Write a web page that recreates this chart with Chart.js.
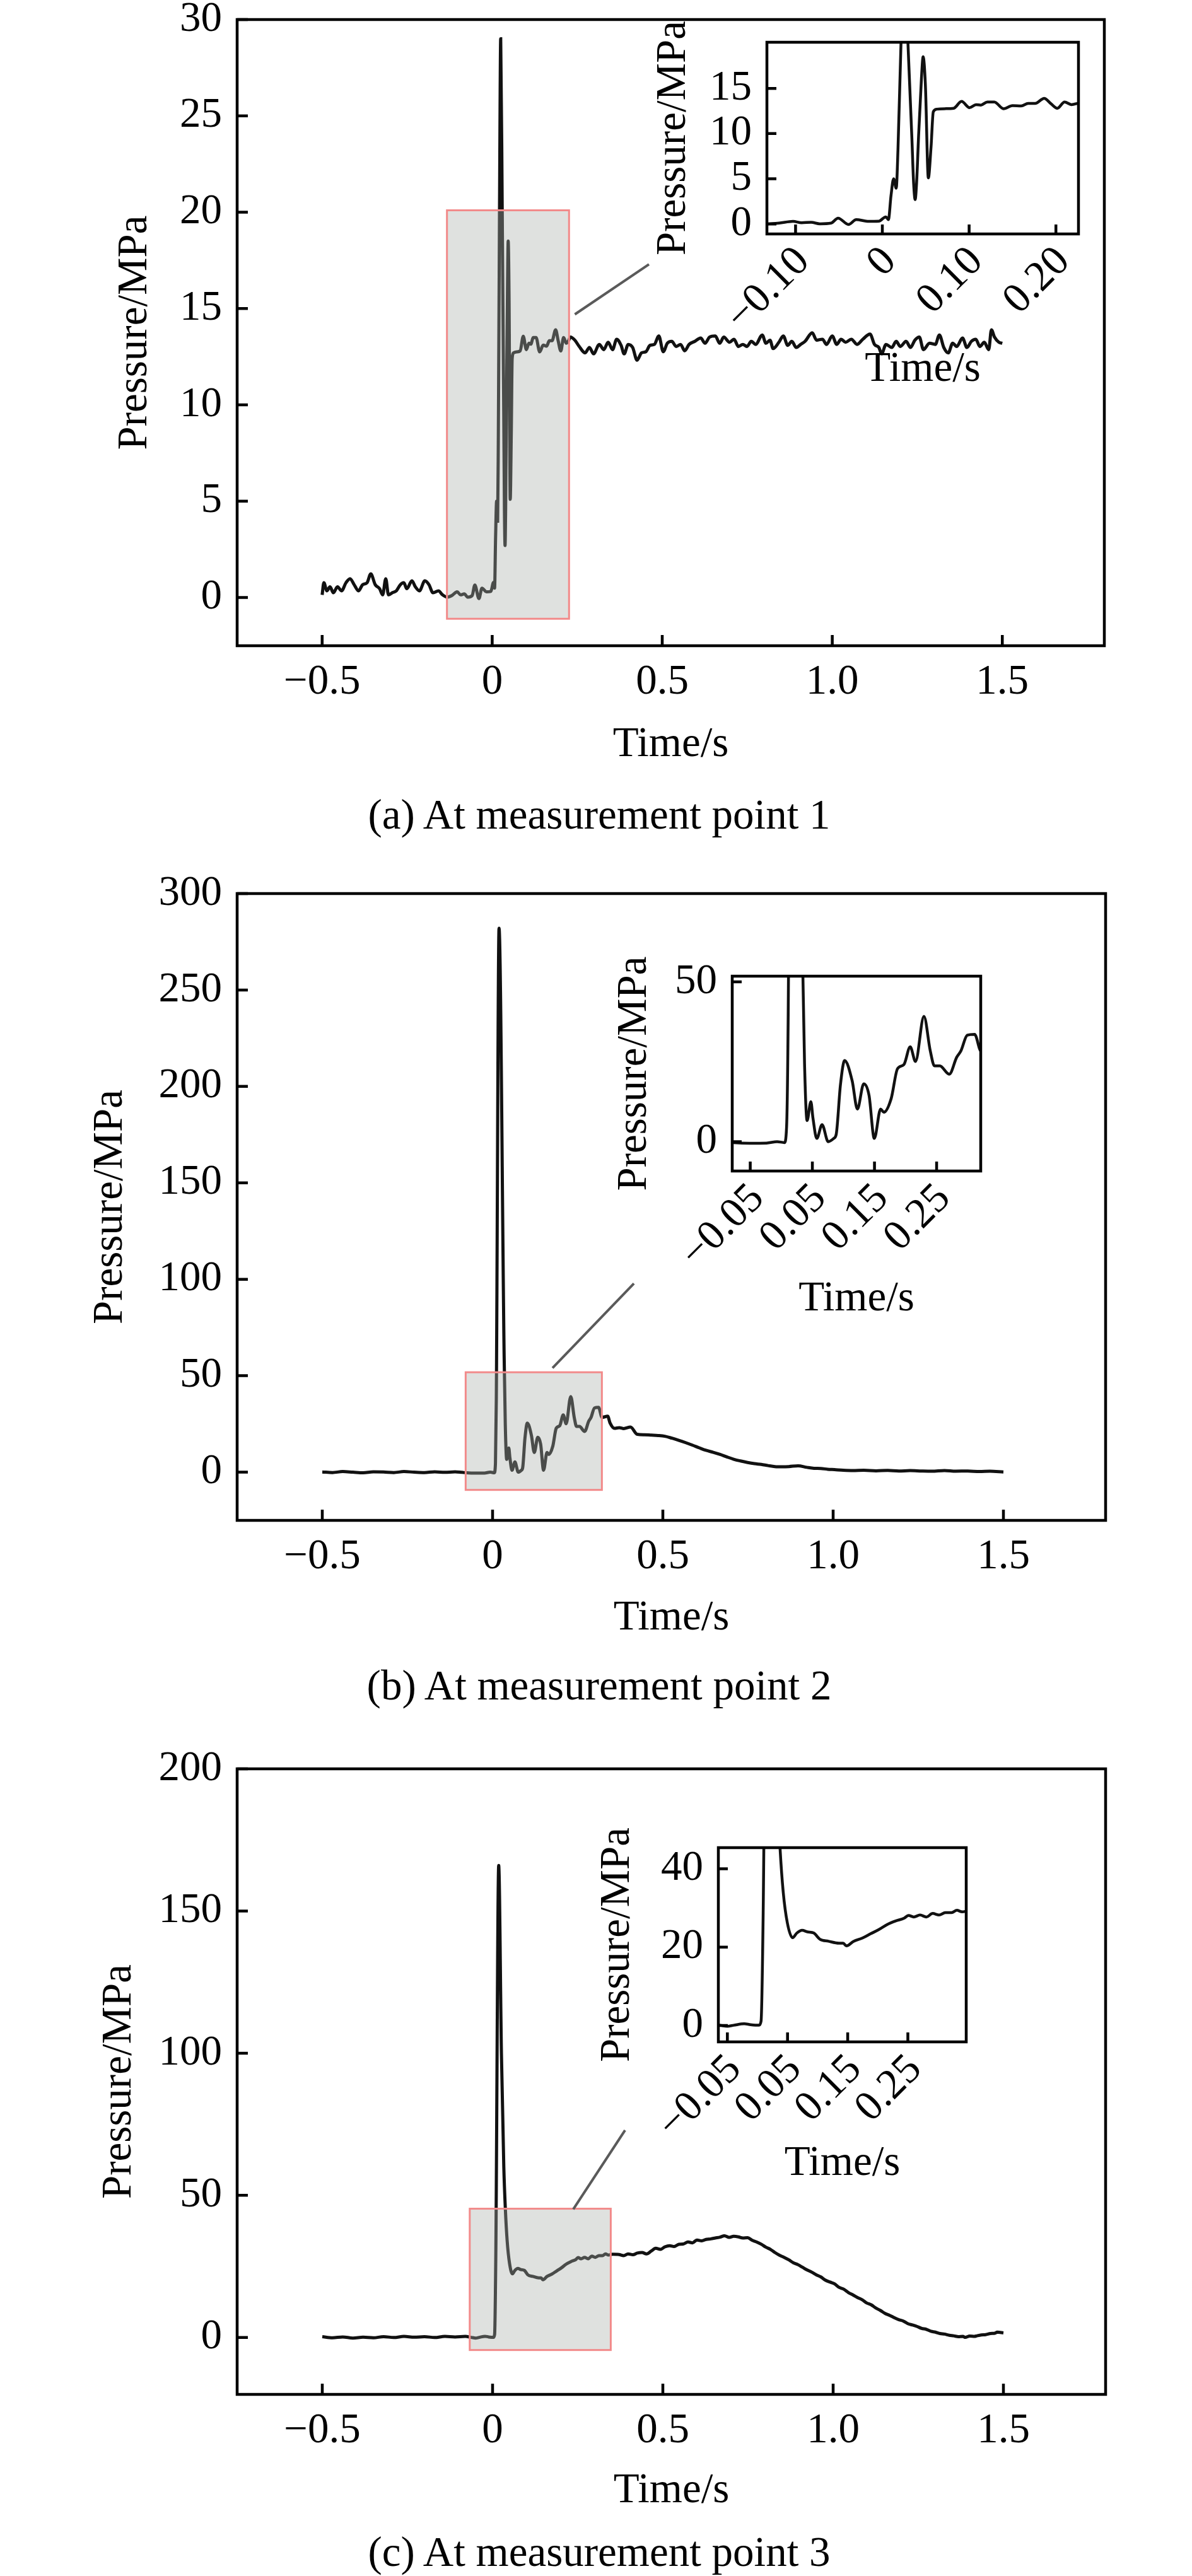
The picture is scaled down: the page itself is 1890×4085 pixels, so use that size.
<!DOCTYPE html>
<html lang="en">
<head>
<meta charset="UTF-8">
<title>Pressure at measurement points</title>
<style>
  body { margin: 0; background: #fff; }
  #page { position: relative; width: 1890px; height: 4085px; background: #fff; overflow: hidden; }
  canvas { position: absolute; }
  .caption {
    position: absolute; left: 0; width: 1900px; height: 80px;
    text-align: center; line-height: 80px; color: #000;
    font-family: "Liberation Serif", "Times New Roman", serif; font-size: 67px;
  }
</style>
</head>
<body>
<div id="page">
  <canvas id="mainA"></canvas>
  <canvas id="insetA"></canvas>
  <canvas id="mainB"></canvas>
  <canvas id="insetB"></canvas>
  <canvas id="mainC"></canvas>
  <canvas id="insetC"></canvas>
  <div class="caption" style="top:1251px">(a) At measurement point 1</div>
  <div class="caption" style="top:2632px">(b) At measurement point 2</div>
  <div class="caption" style="top:4006px">(c) At measurement point 3</div>
</div>

<script src="https://cdn.jsdelivr.net/npm/chart.js"></script>
<script>
// ---- data (time in s, pressure in MPa) ----
const timeA = [
  -0.500,-0.495,-0.486,-0.477,-0.467,-0.455,-0.443,-0.430,-0.418,-0.406,
  -0.393,-0.381,-0.368,-0.357,-0.344,-0.331,-0.322,-0.313,-0.305,-0.294,
  -0.282,-0.270,-0.260,-0.251,-0.236,-0.226,-0.214,-0.198,-0.186,-0.174,
  -0.158,-0.146,
  -0.132,-0.119,-0.103,-0.093,-0.082,-0.072,-0.059,-0.051,-0.039,-0.030,
  -0.017,-0.004,0.004,0.007,0.010,0.013,0.016,0.018,0.0215,0.025,
  0.0295,0.034,0.036,0.0378,0.0395,0.0417,0.045,0.047,0.0496,0.053,
  0.0561,0.0587,0.0626,0.0717,0.0822,0.0913,0.1004,0.108,0.1135,0.121,
  0.129,0.1396,0.150,0.160,0.168,0.176,0.1865,0.194,0.2017,0.210,
  0.2178,0.2244,
  0.230,0.243,0.256,0.273,0.286,0.298,0.315,0.328,0.341,0.354,
  0.366,0.379,0.388,0.400,0.413,0.426,0.439,0.452,0.464,0.477,
  0.490,0.503,0.515,0.528,0.541,0.554,0.566,0.579,0.596,0.613,
  0.626,0.639,0.656,0.669,0.681,0.698,0.711,0.724,0.737,0.749,
  0.762,0.775,0.794,0.805,0.817,0.826,0.843,0.856,0.869,0.881,
  0.894,0.907,0.920,0.941,0.954,0.971,0.983,1.000,1.013,1.026,
  1.039,1.056,1.073,1.090,1.111,1.124,1.137,1.145,1.158,1.175,
  1.188,1.200,1.217,1.230,1.243,1.256,1.268,1.286,1.303,1.315,
  1.328,1.341,1.354,1.366,1.383,1.396,1.409,1.422,1.434,1.447,
  1.460,1.468,1.477,1.490,1.500
];
const pressA = [
  0.14,0.77,0.35,0.56,0.25,0.56,0.35,0.77,0.98,0.67,
  0.35,0.67,0.77,1.23,0.67,0.46,0.14,0.98,0.14,0.25,
  0.35,0.67,0.77,0.46,0.87,0.56,0.35,0.87,0.67,0.25,
  0.35,0.14,
  0.02,0.10,0.30,0.14,0.19,0.02,0.10,0.65,-0.05,0.49,
  0.30,0.32,0.79,0.49,3.15,5.0,3.96,8.2,20.0,29.0,
  20.0,9.6,4.6,2.7,4.6,9.6,16.0,18.5,15.4,5.1,
  8.5,12.4,12.7,12.75,12.8,13.56,12.87,13.2,13.15,13.5,
  13.5,12.75,13.1,13.05,13.33,13.33,13.9,13.33,12.8,13.5,
  13.2,13.33,
  13.52,13.36,13.03,12.7,12.98,12.65,13.14,12.87,13.25,12.87,
  13.41,13.09,12.65,13.14,12.98,12.32,12.7,12.76,13.09,13.14,
  13.58,12.76,13.2,13.3,13.03,13.14,12.81,13.14,13.3,13.47,
  13.2,13.52,13.58,13.2,13.52,13.25,13.41,13.03,13.14,13.03,
  13.3,13.14,13.63,13.2,13.36,12.92,13.25,13.58,13.09,13.3,
  12.98,13.14,13.3,13.74,13.36,13.41,13.14,13.58,13.14,13.41,
  13.25,13.41,13.14,13.41,13.68,13.14,12.98,12.65,13.14,12.98,
  13.3,13.03,13.3,12.98,13.36,13.52,12.87,13.2,13.14,13.63,
  12.98,12.7,13.2,13.03,13.47,12.98,13.3,13.41,13.03,13.25,
  12.87,13.9,13.52,13.25,13.2
];

const timeB = [
  -0.50,-0.47,-0.44,-0.41,-0.38,-0.35,-0.32,-0.29,-0.26,-0.23,
  -0.20,-0.17,-0.14,-0.11,-0.09,
  -0.0765,-0.051,-0.0238,-0.0068,0.005,0.0085,0.011,0.019,0.034,0.0374,
  0.0415,0.0476,0.051,0.0571,0.0656,0.0755,0.0844,0.0884,0.0952,0.102,
  0.114,0.1225,0.1327,0.1412,0.1497,0.1599,0.165,0.1769,0.187,0.1973,
  0.2075,0.216,0.2296,0.2398,0.2466,0.2551,0.2704,0.2823,0.2891,0.2993,
  0.3112,0.3214,
  0.338,0.345,0.358,0.372,0.385,0.405,0.425,0.446,0.466,0.486,
  0.506,0.527,0.547,0.567,0.587,0.607,0.627,0.648,0.668,0.688,
  0.708,0.728,0.749,0.769,0.789,0.809,0.829,0.850,0.870,0.897,
  0.923,0.944,0.964,0.984,1.004,1.030,1.058,1.090,1.126,1.160,
  1.193,1.226,1.260,1.290,1.327,1.360,1.395,1.430,1.460,1.500
];
const pressB = [
  0.1,-0.2,0.3,0,-0.3,0.2,0.1,-0.2,0.3,0,
  -0.2,0.2,-0.1,0.2,-0.1,
  -0.33,-0.5,-0.46,0,-0.3,4.6,37.6,282,60,24.4,
  6.6,12.5,7.3,1.0,5.3,0,1.0,2.3,17.8,25.4,
  19.1,10.2,18.1,14.5,1.0,10.2,9.2,13.5,22.8,24.1,
  29.7,25.1,39.2,28.4,23.7,23.7,21.1,26.4,28.4,33.3,
  33.6,28.4,
  29.0,25.5,22.7,23.1,22.6,23.4,19.6,19.4,19.2,19.0,
  18.6,17.6,16.5,15.3,14.0,12.6,11.3,10.3,9.2,7.9,
  6.7,5.8,5.0,4.4,4.0,3.4,2.9,2.8,2.9,3.3,
  2.5,2.0,1.9,1.5,1.3,1.0,0.85,1.0,0.7,0.9,
  0.6,0.8,0.6,0.5,0.85,0.5,0.6,0.3,0.5,0.1
];

const timeC = [
  -0.50,-0.47,-0.44,-0.41,-0.38,-0.35,-0.32,-0.29,-0.26,-0.23,
  -0.20,-0.17,-0.14,-0.11,-0.08,
  -0.0623,-0.05,-0.0395,-0.022,-0.0115,0.0025,0.006,0.0095,0.018,0.026,
  0.033,0.0375,0.0428,0.0498,0.0585,0.0655,0.0743,0.083,0.0935,0.104,
  0.118,0.1355,0.1425,0.1478,0.160,0.174,0.188,0.202,0.216,0.230,
  0.244,0.251,0.2598,0.2703,0.2808,0.2913,0.3018,0.3123,0.3228,0.3315,
  0.3403,
  0.352,0.3716,0.385,0.398,0.412,0.425,0.439,0.452,0.466,0.479,
  0.493,0.506,0.520,0.533,0.547,0.560,0.574,0.587,0.600,0.614,
  0.627,0.641,0.654,0.668,0.681,0.695,0.708,0.722,0.735,0.749,
  0.762,0.775,0.789,0.802,0.816,0.829,0.843,0.856,0.870,0.883,
  0.897,0.910,0.923,0.937,0.950,0.964,0.977,0.991,1.004,1.018,
  1.031,1.045,1.058,1.071,1.085,1.098,1.112,1.125,1.139,1.152,
  1.166,1.179,1.192,1.206,1.219,1.233,1.246,1.260,1.273,1.287,
  1.300,1.314,1.327,1.341,1.354,1.368,1.381,1.388,1.401,1.415,
  1.422,1.435,1.448,1.462,1.475,1.482,1.500
];
const pressC = [
  0.3,-0.1,0.2,-0.2,0.1,-0.1,0.3,0,0.4,0.1,
  0.3,0,0.4,0.2,0.4,
  0.05,-0.2,0.05,0.43,0.2,0.05,1.1,28.7,166,100,
  60,45.4,34.1,26.1,22.4,23.6,24.3,23.9,23.6,22.0,
  21.5,21.0,21.0,20.3,21.5,22.3,23.4,24.5,25.8,26.7,
  27.4,28.1,27.7,28.2,27.7,28.6,28.2,28.8,28.8,29.4,
  29.0,
  29.3,29.2,28.8,29.4,29.1,29.7,29.9,29.4,30.4,31.4,
  31.0,31.9,32.3,32.0,32.8,32.9,33.6,33.3,34.3,34.0,
  34.5,34.7,35.0,35.3,35.8,35.2,35.6,35.4,35.0,35.1,
  34.2,33.6,32.8,31.8,31.0,29.9,28.9,28.2,27.3,26.3,
  25.6,24.7,23.8,23.0,22.1,21.3,20.2,19.5,18.9,17.6,
  17.0,15.8,15.0,14.1,13.3,12.2,11.5,10.4,9.5,8.5,
  7.8,7.0,6.3,5.8,4.9,4.4,3.9,3.2,2.9,2.2,
  1.9,1.4,1.2,0.8,0.6,0.3,0.4,0.05,0.5,0.4,
  0.6,0.9,1.0,1.4,1.5,1.9,1.6
];

// ---- tick values and labels ----
const mainXTicks = [-0.5, 0, 0.5, 1.0, 1.5];
const mainXLabels = ['\u22120.5', '0', '0.5', '1.0', '1.5'];
const yTicksA = [0, 5, 10, 15, 20, 25, 30];
const yTicksB = [0, 50, 100, 150, 200, 250, 300];
const yTicksC = [0, 50, 100, 150, 200];
const insetXTicksA = [-0.1, 0, 0.1, 0.2];
const insetXLabelsA = ['\u22120.10', '0', '0.10', '0.20'];
const insetXTicksBC = [-0.05, 0.05, 0.15, 0.25];
const insetXLabelsBC = ['\u22120.05', '0.05', '0.15', '0.25'];
const insetYTicksA = [0, 5, 10, 15];
const insetYTicksB = [0, 50];
const insetYTicksC = [0, 20, 40];

const FONT = 'Liberation Serif';
const FS = 67;

function series(t, p) {
  if (t.length !== p.length) console.warn('length mismatch', t.length, p.length);
  return t.map((v, i) => ({ x: v, y: p[i] }));
}

function buildChart(o) {
  const cv = document.getElementById(o.id);
  const r = o.canvas, p = o.plot;
  cv.width = r.w; cv.height = r.h;
  cv.style.left = r.x + 'px'; cv.style.top = r.y + 'px';
  cv.style.width = r.w + 'px'; cv.style.height = r.h + 'px';
  const lh = FS * 1.2;
  const font = { family: FONT, size: FS, lineHeight: 1.2 };

  const deco = {
    id: 'deco',
    afterDatasetsDraw(chart) {
      if (!o.zoomBox) return;
      const { ctx, scales: { x, y } } = chart;
      const b = o.zoomBox;
      const x0 = x.getPixelForValue(b.x0), x1 = x.getPixelForValue(b.x1);
      const y0 = y.getPixelForValue(b.y1), y1 = y.getPixelForValue(b.y0);
      ctx.save();
      ctx.fillStyle = 'rgba(170,175,170,0.375)';
      ctx.fillRect(x0, y0, x1 - x0, y1 - y0);
      ctx.strokeStyle = '#f28a8a';
      ctx.lineWidth = 3;
      ctx.strokeRect(x0, y0, x1 - x0, y1 - y0);
      const l = o.link;
      ctx.strokeStyle = '#5a5a5a';
      ctx.lineWidth = 4;
      ctx.beginPath();
      ctx.moveTo(x.getPixelForValue(l.x0), y.getPixelForValue(l.y0));
      ctx.lineTo(x.getPixelForValue(l.x1), y.getPixelForValue(l.y1));
      ctx.stroke();
      ctx.restore();
    },
    afterDraw(chart) {
      const { ctx, chartArea: a, scales: { x, y } } = chart;
      ctx.save();
      ctx.strokeStyle = '#000';
      ctx.lineWidth = 4.5;
      ctx.strokeRect(a.left, a.top, a.right - a.left, a.bottom - a.top);
      ctx.beginPath();
      x.ticks.forEach(t => {
        const px = x.getPixelForValue(t.value);
        ctx.moveTo(px, a.bottom); ctx.lineTo(px, a.bottom - o.tickLen);
      });
      y.ticks.forEach(t => {
        const py = y.getPixelForValue(t.value);
        ctx.moveTo(a.left, py); ctx.lineTo(a.left + o.tickLen, py);
      });
      ctx.stroke();
      ctx.restore();
    }
  };

  return new Chart(cv, {
    type: 'line',
    data: {
      datasets: [{
        data: series(o.t, o.p),
        borderColor: '#111',
        borderWidth: o.lineWidth,
        pointRadius: 0,
        cubicInterpolationMode: 'monotone',
        fill: false
      }]
    },
    options: {
      responsive: false,
      animation: false,
      devicePixelRatio: 1,
      events: [],
      layout: {
        autoPadding: false,
        padding: { left: 0, top: p.t - r.y, right: r.x + r.w - p.r, bottom: 0 }
      },
      plugins: { legend: { display: false }, tooltip: { enabled: false } },
      scales: {
        x: {
          type: 'linear',
          min: o.xRange[0], max: o.xRange[1],
          grid: { display: false, drawTicks: false },
          border: { display: false },
          afterBuildTicks: s => { s.ticks = o.xTicks.map(v => ({ value: v })); },
          afterFit: s => { s.height = r.y + r.h - p.b; s.paddingLeft = 0; s.paddingRight = 0; },
          ticks: {
            autoSkip: false, color: '#000', font,
            padding: o.xTickPad, labelOffset: o.xLabelOffset || 0,
            minRotation: o.rot, maxRotation: o.rot,
            callback: (v, i) => o.xLabels[i]
          },
          title: {
            display: true, text: 'Time/s', color: '#000', font,
            padding: { top: 0, bottom: r.y + r.h - o.xTitleY - lh / 2 }
          }
        },
        y: {
          type: 'linear',
          min: o.yRange[0], max: o.yRange[1],
          grid: { display: false, drawTicks: false },
          border: { display: false },
          afterBuildTicks: s => { s.ticks = o.yTicks.map(v => ({ value: v })); },
          afterFit: s => { s.width = p.l - r.x; s.paddingTop = 0; s.paddingBottom = 0; },
          ticks: {
            autoSkip: false, color: '#000', font, padding: o.yTickPad,
            callback: v => String(v)
          },
          title: {
            display: true, text: 'Pressure/MPa', color: '#000', font,
            padding: { top: o.yTitleX - r.x - lh / 2, bottom: 0 }
          }
        }
      }
    },
    plugins: [deco]
  });
}

// ---- panel (a) ----
buildChart({
  id: 'mainA', t: timeA, p: pressA,
  canvas: { x: 0, y: 0, w: 1890, h: 1240 },
  plot: { l: 376, t: 31, r: 1751, b: 1024 },
  xRange: [-0.75, 1.8], yRange: [-2.5, 30],
  xTicks: mainXTicks, xLabels: mainXLabels, yTicks: yTicksA,
  rot: 0, xTickPad: 18, yTickPad: 24, xTitleY: 1181, yTitleX: 214,
  tickLen: 17, lineWidth: 5,
  zoomBox: { x0: -0.133, x1: 0.226, y0: -1.1, y1: 20.1 },
  link: { x0: 0.243, y0: 14.7, x1: 0.461, y1: 17.3 }
});
buildChart({
  id: 'insetA', t: timeA, p: pressA,
  canvas: { x: 1000, y: 0, w: 780, h: 650 },
  plot: { l: 1216, t: 67, r: 1710, b: 371 },
  xRange: [-0.133, 0.226], yRange: [-1.1, 20.1],
  xTicks: insetXTicksA, xLabels: insetXLabelsA, yTicks: insetYTicksA,
  rot: 45, xTickPad: 5, xLabelOffset: 12, yTickPad: 24, xTitleY: 586, yTitleX: 1068,
  tickLen: 15, lineWidth: 4.5
});

// ---- panel (b) ----
buildChart({
  id: 'mainB', t: timeB, p: pressB,
  canvas: { x: 0, y: 1360, w: 1890, h: 1270 },
  plot: { l: 376, t: 1417, r: 1753, b: 2411 },
  xRange: [-0.75, 1.8], yRange: [-25, 300],
  xTicks: mainXTicks, xLabels: mainXLabels, yTicks: yTicksB,
  rot: 0, xTickPad: 18, yTickPad: 24, xTitleY: 2566, yTitleX: 175,
  tickLen: 17, lineWidth: 5,
  zoomBox: { x0: -0.079, x1: 0.321, y0: -9.2, y1: 51.8 },
  link: { x0: 0.176, y0: 54, x1: 0.415, y1: 97.8 }
});
buildChart({
  id: 'insetB', t: timeB, p: pressB,
  canvas: { x: 940, y: 1500, w: 680, h: 620 },
  plot: { l: 1161, t: 1548, r: 1555, b: 1857 },
  xRange: [-0.079, 0.321], yRange: [-9.2, 51.8],
  xTicks: insetXTicksBC, xLabels: insetXLabelsBC, yTicks: insetYTicksB,
  rot: 45, xTickPad: 5, xLabelOffset: 12, yTickPad: 24, xTitleY: 2060, yTitleX: 1006,
  tickLen: 15, lineWidth: 4.5
});

// ---- panel (c) ----
buildChart({
  id: 'mainC', t: timeC, p: pressC,
  canvas: { x: 0, y: 2740, w: 1890, h: 1250 },
  plot: { l: 376, t: 2805, r: 1753, b: 3797 },
  xRange: [-0.75, 1.8], yRange: [-20, 200],
  xTicks: mainXTicks, xLabels: mainXLabels, yTicks: yTicksC,
  rot: 0, xTickPad: 18, yTickPad: 24, xTitleY: 3950, yTitleX: 189,
  tickLen: 17, lineWidth: 5,
  zoomBox: { x0: -0.067, x1: 0.347, y0: -4.4, y1: 45.3 },
  link: { x0: 0.237, y0: 45.1, x1: 0.389, y1: 72.9 }
});
buildChart({
  id: 'insetC', t: timeC, p: pressC,
  canvas: { x: 920, y: 2880, w: 680, h: 620 },
  plot: { l: 1139, t: 2930, r: 1532, b: 3238 },
  xRange: [-0.065, 0.347], yRange: [-4.2, 45.4],
  xTicks: insetXTicksBC, xLabels: insetXLabelsBC, yTicks: insetYTicksC,
  rot: 45, xTickPad: 5, xLabelOffset: 12, yTickPad: 24, xTitleY: 3431, yTitleX: 979,
  tickLen: 15, lineWidth: 4.5
});
</script>
</body>
</html>
